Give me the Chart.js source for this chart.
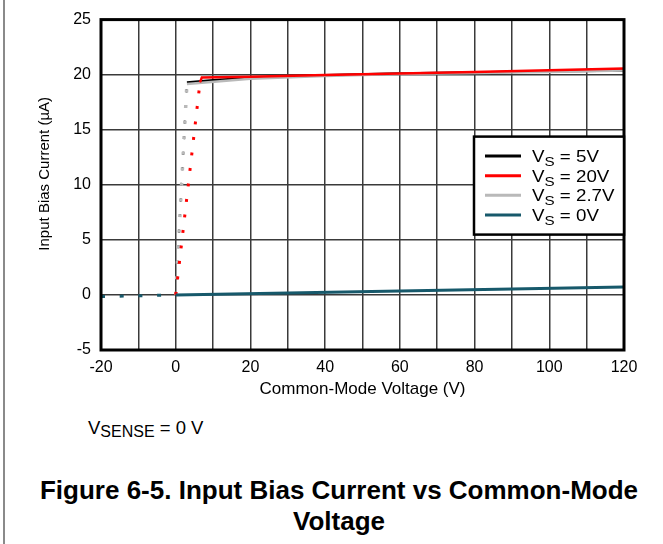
<!DOCTYPE html>
<html>
<head>
<meta charset="utf-8">
<script src="https://cdn.jsdelivr.net/npm/chart.js@4.4.1/dist/chart.umd.min.js"></script>
<style>
  html, body { margin: 0; padding: 0; background: #fff; }
  body { width: 663px; height: 544px; position: relative; overflow: hidden; font-family: "Liberation Sans", Arial, sans-serif; }
  #edge { position: absolute; left: 3px; top: 0; width: 1.5px; height: 544px; background: #8a8a8a; }
  #wrap { position: absolute; left: 0; top: 0; width: 663px; height: 400px; }
  #note { position: absolute; left: 88px; top: 417px; font-size: 18.5px; line-height: 22px; white-space: nowrap; }
  #note span { font-size: 16px; position: relative; top: 3px; }
  #caption { position: absolute; left: 19px; width: 640px; top: 475px; text-align: center; font-weight: bold; font-size: 26px; line-height: 31px; white-space: nowrap; }
</style>
</head>
<body>
<div id="edge"></div>
<div id="wrap"><canvas id="chart"></canvas></div>
<div id="note">V<span>SENSE</span> = 0 V</div>
<div id="caption">Figure 6-5. Input Bias Current vs Common-Mode<br>Voltage</div>
<script>
// common-mode voltage (V) and input bias current (uA)
const vcm5 = [0, 3, 10, 20, 40, 60, 80, 100, 120];
const ib5 = [0, 19.3, 19.5, 19.72, 19.95, 20.1, 20.2, 20.3, 20.38];
const vcm20 = [0, 6.5, 7, 20, 40, 60, 80, 100, 120];
const ib20 = [0, 19.3, 19.75, 19.82, 19.97, 20.1, 20.25, 20.4, 20.55];
const vcm27 = [0, 3, 20, 40, 60, 80, 100, 120];
const ib27 = [0, 19.15, 19.62, 19.88, 20.05, 20.15, 20.25, 20.37];
const vcm0 = [-20, 0, 60, 120];
const ib0 = [-0.15, 0, 0.35, 0.72];

// where each trace stops being dotted
const dotEnd5 = 3, dotEnd20 = 6.5, dotEnd27 = 3, dotEnd0 = 0;

const legendVals = ['5V', '20V', '2.7V', '0V'];
const xTickStep = 10, xLabelStep = 20;
const yTicks = [-5, 0, 5, 10, 15, 20, 25];

const FONT = '"Liberation Sans", Arial, sans-serif';

function pts(xs, ys) {
  return xs.map((x, i) => ({ x: x, y: ys[i] }));
}

function dotted(end, dash, width) {
  return {
    borderDash: c => (c.p1.parsed.x <= end ? dash : undefined),
    borderWidth: c => (c.p1.parsed.x <= end ? width : undefined)
  };
}

const frameAndLegend = {
  id: 'frameAndLegend',
  afterDraw(chart) {
    const ctx = chart.ctx;
    const a = chart.chartArea;
    ctx.save();
    // plot frame
    ctx.strokeStyle = '#000';
    ctx.lineWidth = 3;
    ctx.strokeRect(a.left, a.top, a.right - a.left, a.bottom - a.top);

    // y axis title (sits a bit above centre in the original)
    ctx.save();
    ctx.translate(45, (a.top + a.bottom) / 2 - 11);
    ctx.rotate(-Math.PI / 2);
    ctx.fillStyle = '#000';
    ctx.font = '15px ' + FONT;
    ctx.textAlign = 'center';
    ctx.textBaseline = 'middle';
    ctx.fillText('Input Bias Current (\u00b5A)', 0, 0);
    ctx.restore();

    // boxed legend
    const w = 150, h = 98;
    const x0 = a.right - w, y0 = a.top + 117;
    ctx.fillStyle = '#fff';
    ctx.fillRect(x0, y0, w, h);
    ctx.lineWidth = 2.5;
    ctx.strokeStyle = '#000';
    ctx.strokeRect(x0, y0, w, h);
    chart.data.datasets.forEach((ds, i) => {
      const y = y0 + 19.5 + i * 19.6;
      ctx.strokeStyle = ds.borderColor;
      ctx.lineWidth = 3;
      ctx.beginPath();
      ctx.moveTo(x0 + 11, y);
      ctx.lineTo(x0 + 47, y);
      ctx.stroke();

      ctx.save();
      ctx.translate(x0 + 58, y);
      ctx.scale(1.17, 1);
      ctx.fillStyle = '#000';
      ctx.textBaseline = 'alphabetic';
      ctx.textAlign = 'left';
      let tx = 0;
      ctx.font = '16px ' + FONT;
      ctx.fillText('V', tx, 5.8);
      tx += ctx.measureText('V').width;
      ctx.font = '13px ' + FONT;
      ctx.fillText('S', tx, 10);
      tx += ctx.measureText('S').width;
      ctx.font = '16px ' + FONT;
      ctx.fillText(' = ' + legendVals[i], tx, 5.8);
      ctx.restore();
    });
    ctx.restore();
  }
};

new Chart(document.getElementById('chart'), {
  type: 'line',
  data: {
    datasets: [
      {
        label: 'VS = 5V', data: pts(vcm5, ib5), borderColor: '#000000',
        borderWidth: 2.5, pointRadius: 0, order: 3, segment: dotted(dotEnd5, [3, 12.6], 2)
      },
      {
        label: 'VS = 20V', data: pts(vcm20, ib20), borderColor: '#ff0000',
        borderWidth: 2.5, pointRadius: 0, order: 1, segment: dotted(dotEnd20, [3, 12.6], 3)
      },
      {
        label: 'VS = 2.7V', data: pts(vcm27, ib27), borderColor: '#b9b9b9',
        borderWidth: 2.5, pointRadius: 0, order: 2, segment: dotted(dotEnd27, [3, 12.6], 3.5)
      },
      {
        label: 'VS = 0V', data: pts(vcm0, ib0), borderColor: '#17596b',
        borderWidth: 3, pointRadius: 0, order: 0, segment: dotted(dotEnd0, [4, 14.7], 3)
      }
    ]
  },
  options: {
    responsive: true,
    maintainAspectRatio: false,
    animation: false,
    layout: { padding: { top: 16, right: 39, left: 0, bottom: 0 } },
    plugins: {
      legend: { display: false },
      tooltip: { enabled: false }
    },
    scales: {
      x: {
        type: 'linear',
        min: -20,
        max: 120,
        grid: { color: '#3a3a3a', lineWidth: 1.5, drawTicks: false },
        border: { display: false },
        ticks: {
          stepSize: xTickStep,
          autoSkip: false,
          maxRotation: 0,
          padding: 8,
          color: '#000',
          font: { family: FONT, size: 16 },
          callback: v => (v % xLabelStep === 0 ? String(v) : '')
        },
        title: {
          display: true,
          text: 'Common-Mode Voltage (V)',
          color: '#000',
          font: { family: FONT, size: 17 },
          padding: { top: 0, bottom: 0 }
        },
        afterFit: s => { s.height = 50; }
      },
      y: {
        type: 'linear',
        min: yTicks[0],
        max: yTicks[yTicks.length - 1],
        grid: { color: '#3a3a3a', lineWidth: 1.5, drawTicks: false },
        border: { display: false },
        afterBuildTicks: s => { s.ticks = yTicks.map(v => ({ value: v })); },
        ticks: {
          padding: 10,
          color: '#000',
          font: { family: FONT, size: 16 }
        },
        afterFit: s => { s.width = 101; }
      }
    }
  },
  plugins: [frameAndLegend]
});
</script>
</body>
</html>
